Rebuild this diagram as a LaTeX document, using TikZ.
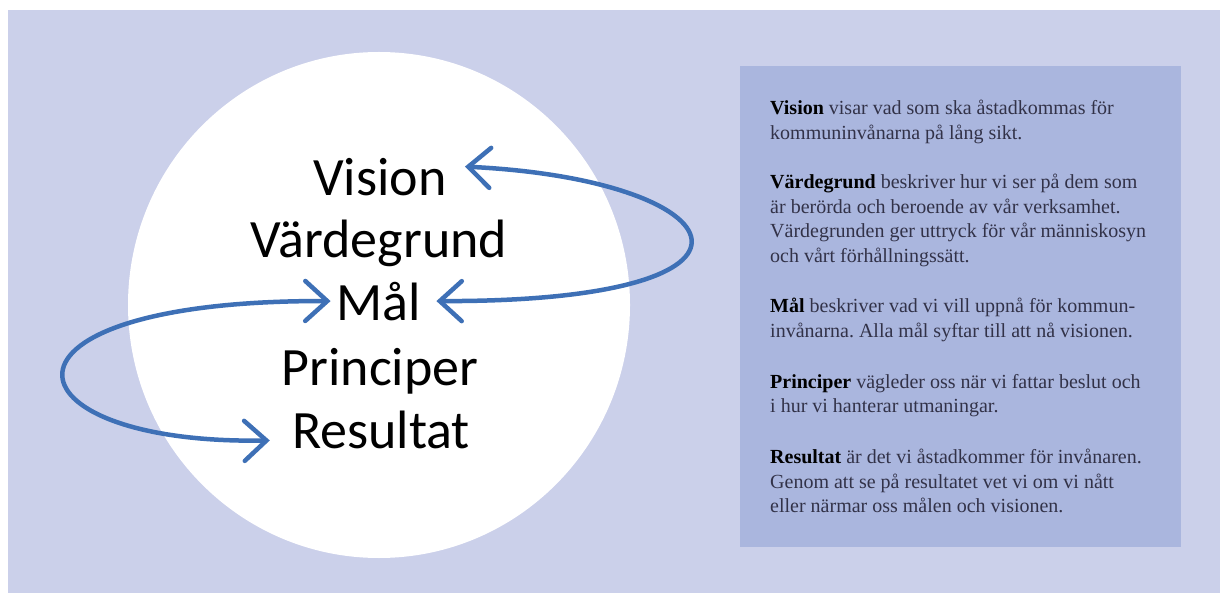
\documentclass[tikz,border=0pt]{standalone}
\usepackage{fontspec}
\setmainfont{Liberation Serif}
\newfontfamily\circlefont{Carlito}
\usetikzlibrary{arrows.meta}
\frenchspacing
\definecolor{bg_lavender}{RGB}{203, 208, 234}
\definecolor{box_blue}{RGB}{170, 182, 222}
\definecolor{arrow_blue}{RGB}{62, 112, 182}
\definecolor{text_dark}{RGB}{50, 50, 72}
\tikzset{
  word/.style={font=\circlefont\fontsize{54}{60}\selectfont, text=black, inner sep=0pt, anchor=base},
  desc/.style={font=\fontsize{20}{24.5}\selectfont, text=text_dark, align=left, inner sep=0pt, anchor=north west},
  bluearrow/.style={line width=4.5pt, arrow_blue, line cap=round, {Straight Barb[length=22pt, width=40pt, line cap=round]}-{Straight Barb[length=22pt, width=40pt, line cap=round]}}
}

\begin{document}
\begin{tikzpicture}[x=1pt, y=-1pt]
\useasboundingbox (0,0) rectangle (1220,593);
\fill[white] (0,0) rectangle (1220,593);
\fill[bg_lavender] (8,10) rectangle (1220,593);
\fill[white] (379,305) ellipse (251 and 253);
\fill[box_blue] (740,66) rectangle (1181,547);
\node[word] (vision) at (380,196) {Vision};
\node[word] (vardegrund) at (379,258) {Värdegrund};
\node[word] (mal) at (379,320) {Mål};
\node[word] (principer) at (380,385) {Principer};
\node[word] (resultat) at (381,448) {Resultat};
\draw[bluearrow] ([xshift=15pt]mal.east) .. controls (800,302) and (740,180) .. ([xshift=18pt, yshift=11pt]vision.east);
\draw[bluearrow] ([xshift=-6pt]mal.west) .. controls (-30,300) and (0,445) .. ([xshift=-22pt, yshift=-11pt]resultat.west);
\node[desc] (descvision) at (770,100) {\textbf{\color{black}Vision} visar vad som ska åstadkommas för\\kommuninvånarna på lång sikt.};
\node[desc] (descvarde) at (770,174) {\textbf{\color{black}Värdegrund} beskriver hur vi ser på dem som\\är berörda och beroende av vår verksamhet.\\Värdegrunden ger uttryck för vår människosyn\\och vårt förhållningssätt.};
\node[desc] (descmal) at (770,298) {\textbf{\color{black}Mål} beskriver vad vi vill uppnå för kommun-\\invånarna. Alla mål syftar till att nå visionen.};
\node[desc] (descprinciper) at (770,374) {\textbf{\color{black}Principer} vägleder oss när vi fattar beslut och\\i hur vi hanterar utmaningar.};
\node[desc] (descresultat) at (770,449) {\textbf{\color{black}Resultat} är det vi åstadkommer för invånaren.\\Genom att se på resultatet vet vi om vi nått\\eller närmar oss målen och visionen.};
\end{tikzpicture}
\end{document}
